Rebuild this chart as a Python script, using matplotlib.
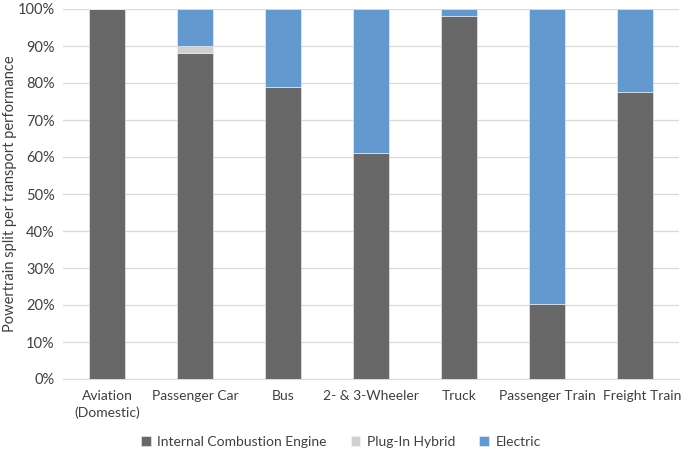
import matplotlib
matplotlib.use("Agg")
import matplotlib.pyplot as plt
import matplotlib.transforms as mtransforms
import numpy as np

categories = ["Aviation\n(Domestic)", "Passenger Car", "Bus", "2- & 3-Wheeler",
              "Truck", "Passenger Train", "Freight Train"]
ice = [100.0, 88.2, 79.0, 61.2, 98.0, 20.2, 77.5]
phev = [0.0, 1.8, 0.0, 0.0, 0.0, 0.0, 0.0]
electric = [0.0, 10.0, 21.0, 38.8, 2.0, 79.8, 22.5]
yticks = [0, 10, 20, 30, 40, 50, 60, 70, 80, 90, 100]
series_names = ["Internal Combustion Engine", "Plug-In Hybrid", "Electric"]
colors = ["#686868", "#D0D0D0", "#6399CE"]

plt.rcParams['font.family'] = ['Lato', 'DejaVu Sans']

fig = plt.figure(figsize=(6.85, 4.53), dpi=100)
ax = fig.add_axes([63/685, 1-379/453, (679-63)/685, 370/453])

x = np.arange(len(categories))
w = 0.40
ice_a = np.array(ice); phev_a = np.array(phev); el_a = np.array(electric)
ax.bar(x, ice_a, w, color=colors[0], label=series_names[0], zorder=3,
       edgecolor="#f2f2f2", linewidth=0.4)
ax.bar(x, phev_a, w, bottom=ice_a, color=colors[1], label=series_names[1], zorder=3,
       edgecolor="#f2f2f2", linewidth=0.4)
ax.bar(x, el_a, w, bottom=ice_a + phev_a, color=colors[2], label=series_names[2], zorder=3,
       edgecolor="#f2f2f2", linewidth=0.4)

ax.set_xlim(-0.5, len(categories) - 0.5)
ax.set_ylim(0, 100)
ax.set_yticks(yticks)
ax.set_yticklabels([f"{v}%" for v in yticks], fontsize=10.5, color="#404040")
ax.set_xticks(x)
ax.set_xticklabels(categories, fontsize=10, color="#404040", linespacing=1.45)
ax.tick_params(axis='both', length=0, pad=6)
ax.tick_params(axis='x', pad=8)
last = ax.get_xticklabels()[-1]
last.set_transform(last.get_transform() +
                   mtransforms.ScaledTranslation(7/100, 0, fig.dpi_scale_trans))
ax.yaxis.grid(True, color="#d9d9d9", linewidth=0.9, zorder=0)
for s in ["top", "right", "left"]:
    ax.spines[s].set_visible(False)
ax.spines["bottom"].set_color("#d9d9d9")
ax.set_ylabel("Powertrain split per transport performance", fontsize=10.5, color="#404040")
ax.yaxis.set_label_coords(-0.074, 0.5)

fig.legend(loc="center", bbox_to_anchor=(341/685, 1-442/453), ncol=3, frameon=False,
           fontsize=10, handlelength=0.7, handleheight=0.7, columnspacing=1.7,
           handletextpad=0.5, labelcolor="#404040")

fig.savefig("out.png", dpi=100)
